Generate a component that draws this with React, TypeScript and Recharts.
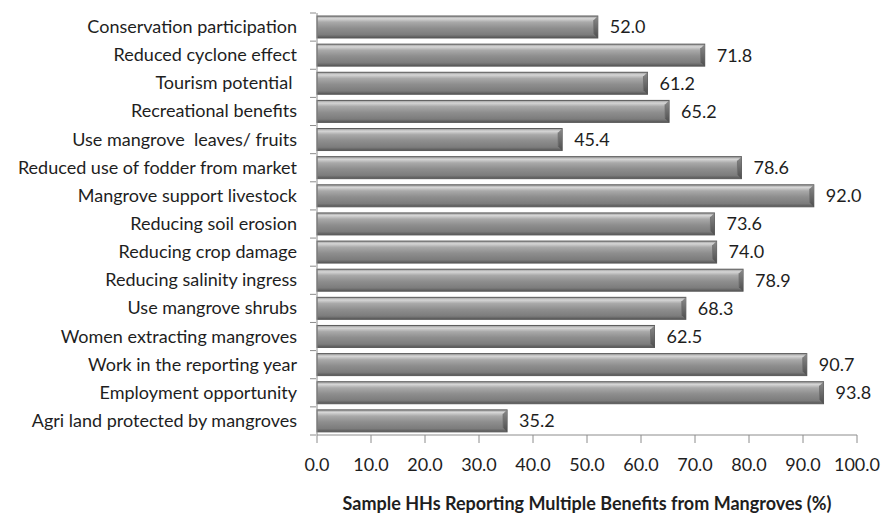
import React from 'react';
import { BarChart, Bar, XAxis, YAxis, LabelList } from 'recharts';

const benefits = [
  'Conservation participation',
  'Reduced cyclone effect',
  'Tourism potential ',
  'Recreational benefits',
  'Use mangrove  leaves/ fruits',
  'Reduced use of fodder from market',
  'Mangrove support livestock',
  'Reducing soil erosion',
  'Reducing crop damage',
  'Reducing salinity ingress',
  'Use mangrove shrubs',
  'Women extracting mangroves',
  'Work in the reporting year',
  'Employment opportunity',
  'Agri land protected by mangroves',
];

const percentHH = [52.0, 71.8, 61.2, 65.2, 45.4, 78.6, 92.0, 73.6, 74.0, 78.9, 68.3, 62.5, 90.7, 93.8, 35.2];

const xTicks = [0, 10, 20, 30, 40, 50, 60, 70, 80, 90, 100];

const W = 881;
const H = 516;
const M = { top: 13, right: 24, left: 0, bottom: 0 };
const Y_AXIS_W = 317;
const X_AXIS_H = 81;
const FONT = 'Lato, "Open Sans", sans-serif';
const AXIS = '#8c8c8c';
const INK = '#1e1e1e';

const data = benefits.map((name, i) => ({ name, value: percentHH[i] }));
const band = (H - M.top - M.bottom - X_AXIS_H) / benefits.length;

// category tick: label at band centre, tick mark on the band boundary
function CategoryTick(props: any) {
  const { x, y, payload, index } = props;
  const last = index === benefits.length - 1;
  return (
    <g>
      <line x1={x + 1} x2={x + 7} y1={y - band / 2} y2={y - band / 2} stroke={AXIS} />
      {last && <line x1={x + 1} x2={x + 7} y1={y + band / 2} y2={y + band / 2} stroke={AXIS} />}
      <text x={x - 12} y={y} dy={6} textAnchor="end" fontSize={18} fill={INK} fontFamily={FONT} style={{ whiteSpace: 'pre' }}>
        {payload.value}
      </text>
    </g>
  );
}

// shaded bar with a small bevel at the right end
function BevelBar(props: any) {
  const { x, y, width, height } = props;
  if (!width || width <= 0) return null;
  const b = 4;
  return (
    <g>
      <rect x={x} y={y} width={width} height={height} fill="url(#barShade)" stroke="#5a5a5a" strokeWidth={1} />
      <polygon
        points={`${x + width - b},${y + b} ${x + width},${y} ${x + width},${y + height} ${x + width - b},${y + height - b}`}
        fill="url(#bevelShade)"
      />
      <line x1={x + width - b} x2={x + width - b} y1={y + b} y2={y + height - b} stroke="#6e6e6e" strokeWidth={0.8} />
    </g>
  );
}

export default function App() {
  return (
    <div style={{ position: 'absolute', left: 0, top: 0, width: W, height: H, background: '#fff' }}>
      <BarChart width={W} height={H} data={data} layout="vertical" margin={M} barSize={22}>
        <defs>
          <linearGradient id="barShade" x1="0" y1="0" x2="0" y2="1">
            <stop offset="0%" stopColor="#9a9a9a" />
            <stop offset="12%" stopColor="#d6d6d6" />
            <stop offset="28%" stopColor="#a9a9a9" />
            <stop offset="55%" stopColor="#8e8e8e" />
            <stop offset="85%" stopColor="#7c7c7c" />
            <stop offset="100%" stopColor="#555555" />
          </linearGradient>
          <linearGradient id="bevelShade" x1="0" y1="0" x2="0" y2="1">
            <stop offset="0%" stopColor="#8a8a8a" />
            <stop offset="100%" stopColor="#4e4e4e" />
          </linearGradient>
        </defs>
        <XAxis
          type="number"
          domain={[0, 100]}
          ticks={xTicks}
          interval={0}
          height={X_AXIS_H}
          stroke={AXIS}
          tickSize={8}
          tickMargin={15}
          tickFormatter={(v: number) => v.toFixed(1)}
          tick={{ fontSize: 18, fill: INK, fontFamily: FONT }}
          label={{
            value: 'Sample HHs Reporting Multiple Benefits from Mangroves (%)',
            position: 'insideBottom',
            offset: 6,
            fontSize: 18,
            fontWeight: 700,
            fill: INK,
            fontFamily: FONT,
          }}
        />
        <YAxis
          type="category"
          dataKey="name"
          width={Y_AXIS_W}
          stroke={AXIS}
          tickLine={false}
          interval={0}
          tick={<CategoryTick />}
        />
        <Bar dataKey="value" shape={<BevelBar />} isAnimationActive={false}>
          <LabelList
            dataKey="value"
            position="right"
            offset={12}
            formatter={(v: any) => Number(v).toFixed(1)}
            fontSize={18}
            fill={INK}
            fontFamily={FONT}
          />
        </Bar>
      </BarChart>
    </div>
  );
}
